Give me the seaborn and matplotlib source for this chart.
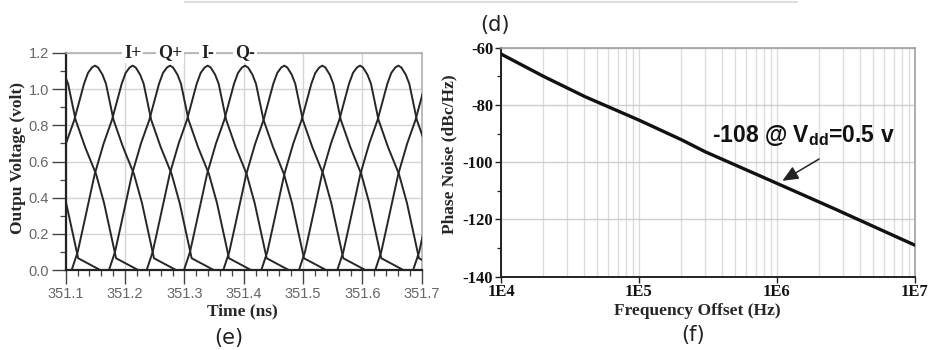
import numpy as np
import pandas as pd
import matplotlib
matplotlib.use("Agg")
import matplotlib.pyplot as plt
import seaborn as sns
from matplotlib.ticker import MultipleLocator, NullFormatter, LogLocator
from matplotlib.lines import Line2D

# ---------------- Panel (e): quadrature outputs ----------------
# one pulse shape (time offset from peak in ns, volts)
pulse_offset_ns = [-0.1028, -0.0927, -0.0826, -0.0640, -0.0489, -0.0349, -0.0185,
                   -0.0118, -0.0051, 0.0, 0.0051, 0.0126, 0.0185, 0.0312, 0.0472,
                   0.0657, 0.0792, 0.0994, 0.1365]
pulse_volt = [0.0, 0.10, 0.25, 0.53, 0.70, 0.83, 1.03, 1.09, 1.12, 1.13, 1.12,
              1.08, 1.03, 0.83, 0.68, 0.53, 0.37, 0.065, 0.0]
# peak times (ns) of every pulse of each signal
peaks_Ip = [351.2129, 351.4684, 351.7245]
peaks_Qp = [351.0216, 351.2758, 351.5325, 351.7884]
peaks_Im = [351.0855, 351.3393, 351.5960]
peaks_Qm = [351.1494, 351.4022, 351.6606]
signal_names = ["I+", "Q+", "I-", "Q-"]
time_ticks = [351.1, 351.2, 351.3, 351.4, 351.5, 351.6, 351.7]
volt_ticks = [0.0, 0.2, 0.4, 0.6, 0.8, 1.0, 1.2]

# ---------------- Panel (f): phase noise ----------------
freq_hz = [1e4, 2.05e4, 4.06e4, 1e5, 2.04e5, 3.0e5, 1e6, 2.56e6, 1e7]
phase_noise = [-62.2, -70.1, -77.1, -85.3, -92.2, -96.3, -107.4, -116.1, -129.0]
freq_ticks = [1e4, 1e5, 1e6, 1e7]
freq_tick_labels = ["1E4", "1E5", "1E6", "1E7"]
pn_ticks = [-140, -120, -100, -80, -60]

sns.set_theme(style="white")
plt.rcParams["font.family"] = ["Liberation Sans", "DejaVu Sans"]
plt.rcParams["mathtext.fontset"] = "custom"
plt.rcParams["mathtext.bf"] = "Liberation Sans:bold"
plt.rcParams["mathtext.rm"] = "Liberation Sans:bold"

SERIF = ["Liberation Serif", "DejaVu Serif"]

fig = plt.figure(figsize=(9.29, 3.5), dpi=100)
ax1 = fig.add_axes([65.7/929, 1-270/350, 356/929, 217/350])
ax2 = fig.add_axes([501/929, 1-276.7/350, 414/929, 229/350])

# ---- panel e ----
rows = []
for name, peaks in zip(signal_names, [peaks_Ip, peaks_Qp, peaks_Im, peaks_Qm]):
    for p in peaks:
        for o, v in zip(pulse_offset_ns, pulse_volt):
            rows.append((name, round(p + o, 5), v))
df_e = pd.DataFrame(rows, columns=["signal", "time", "volt"])
sns.lineplot(data=df_e, x="time", y="volt", units="signal", estimator=None,
             sort=False, color="#262626", lw=1.4, ax=ax1, zorder=3)
ax1.set_xlim(351.1, 351.7)
ax1.set_ylim(0.0, 1.2)
ax1.set_xticks(time_ticks)
ax1.set_xticklabels([f"{t:.1f}" for t in time_ticks])
ax1.set_yticks(volt_ticks)
ax1.set_yticklabels([f"{v:.1f}" for v in volt_ticks])
ax1.xaxis.set_minor_locator(MultipleLocator(0.02))
ax1.yaxis.set_minor_locator(MultipleLocator(0.1))
ax1.grid(True, which="major", color="#d4d4d4", lw=1.0)
ax1.tick_params(axis="both", which="major", direction="out", length=10, width=1.0,
                color="#444444", labelcolor="#666666", labelsize=10.5, pad=2,
                bottom=True, left=True)
ax1.tick_params(axis="both", which="minor", direction="out", length=4, width=0.9,
                color="#444444", bottom=True, left=True)
for s in ["left", "bottom"]:
    ax1.spines[s].set_color("#222222")
    ax1.spines[s].set_linewidth(1.6)
for s in ["top", "right"]:
    ax1.spines[s].set_color("#b0b0b0")
    ax1.spines[s].set_linewidth(1.2)
ax1.set_xlabel("Time (ns)", fontfamily=SERIF, fontweight="bold", fontsize=12.5)
ax1.set_ylabel("Outpu Voltage (volt)", fontfamily=SERIF, fontweight="bold", fontsize=12.5)
ax1.xaxis.set_label_coords(0.495, -0.152)
ax1.yaxis.set_label_coords(-0.112, 0.518)
for name, peaks in zip(signal_names, [peaks_Ip, peaks_Qp, peaks_Im, peaks_Qm]):
    first = [p for p in peaks if p > 351.2][0]
    ax1.text(first, 1.2, name, ha="center", va="center", fontfamily=SERIF,
             fontweight="bold", fontsize=13, color="#222222", zorder=5,
             bbox=dict(boxstyle="square,pad=0.1", fc="white", ec="none"))

# ---- panel f ----
df_f = pd.DataFrame({"freq": freq_hz, "pn": phase_noise})
sns.lineplot(data=df_f, x="freq", y="pn", color="#111111", lw=2.4, ax=ax2, zorder=3)
ax2.set_xscale("log")
ax2.set_xlim(1e4, 1e7)
ax2.set_ylim(-140, -60)
ax2.set_xticks(freq_ticks)
ax2.set_xticklabels(freq_tick_labels)
ax2.xaxis.set_minor_locator(LogLocator(base=10, subs=np.arange(2, 10)))
ax2.xaxis.set_minor_formatter(NullFormatter())
ax2.set_yticks(pn_ticks)
ax2.set_yticklabels([str(v) for v in pn_ticks])
ax2.yaxis.set_minor_locator(MultipleLocator(10))
ax2.grid(True, axis="x", which="both", color="#dcdcdc", lw=1.0)
ax2.grid(True, axis="y", which="major", color="#cfcfcf", lw=1.0)
ax2.tick_params(axis="both", which="major", direction="out", length=4, width=1.0,
                color="#222222", labelsize=12, pad=1.5, bottom=True, left=True)
ax2.tick_params(axis="y", which="minor", direction="out", length=3, width=0.9,
                color="#222222", left=True)
ax2.tick_params(axis="x", which="minor", length=0)
for lab in ax2.get_xticklabels() + ax2.get_yticklabels():
    lab.set_fontfamily(SERIF)
    lab.set_fontweight("bold")
    lab.set_color("#111111")
for s in ["left", "bottom"]:
    ax2.spines[s].set_color("#222222")
    ax2.spines[s].set_linewidth(1.4)
for s in ["top", "right"]:
    ax2.spines[s].set_color("#a0a0a0")
    ax2.spines[s].set_linewidth(1.2)
ax2.set_xlabel("Frequency Offset (Hz)", fontfamily=SERIF, fontweight="bold", fontsize=12.5)
ax2.set_ylabel("Phase Noise (dBc/Hz)", fontfamily=SERIF, fontweight="bold", fontsize=12.5)
ax2.xaxis.set_label_coords(0.473, -0.114)
ax2.yaxis.set_label_coords(-0.106, 0.533)
ax2.annotate("", xy=(1.05e6, -107.0), xytext=(2.1e6, -98.4),
             arrowprops=dict(arrowstyle="-|>,head_length=0.8,head_width=0.35",
                             color="#222222", lw=1.1), zorder=6)
ax2.text(1.54e6, -90.6, r"-108 @ V$_{\mathbf{dd}}$=0.5 v", ha="center",
         va="center", fontsize=16.5, fontweight="bold", color="#111111", zorder=6)

# ---- panel letters ----
fig.text(495/929, 1-25/350, "(d)", fontfamily="DejaVu Sans", fontsize=15,
         ha="center", va="center", color="#222222")
fig.text(229/929, 1-338/350, "(e)", fontfamily="DejaVu Sans", fontsize=15,
         ha="center", va="center", color="#222222")
fig.text(693/929, 1-335/350, "(f)", fontfamily="DejaVu Sans", fontsize=15,
         ha="center", va="center", color="#222222")
fig.add_artist(Line2D([185/929, 797/929], [1-1.5/350, 1-1.5/350],
                      color="#dddddd", lw=1.5))

fig.savefig("out.png", dpi=100)
